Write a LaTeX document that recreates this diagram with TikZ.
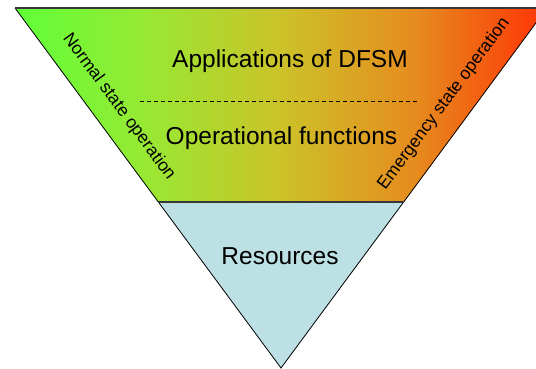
\documentclass[tikz,border=0pt]{standalone}
\usepackage{fontspec}
\setmainfont{Liberation Sans}
\definecolor{res}{RGB}{188,224,228}
\definecolor{edgec}{RGB}{55,55,55}
\pgfdeclarehorizontalshading{fsmshade}{100bp}{%
  rgb(0bp)=(0.37,1.0,0.22);
  rgb(25bp)=(0.37,1.0,0.22);
  rgb(37.5bp)=(0.60,0.91,0.20);
  rgb(50bp)=(0.80,0.76,0.16);
  rgb(62.5bp)=(0.90,0.55,0.12);
  rgb(75bp)=(1.0,0.20,0.02);
  rgb(100bp)=(1.0,0.20,0.02)}
\begin{document}
\begin{tikzpicture}[x=1pt,y=-1pt,
  mainlbl/.style={font=\fontsize{24.5}{29}\selectfont, inner sep=0pt, anchor=base},
  sidelbl/.style={font=\fontsize{17.5}{21}\selectfont, inner sep=0pt}]
\useasboundingbox (0,0) rectangle (536,368);
\clip (0,0) rectangle (536,368);
\coordinate (tl) at (15,8);
\coordinate (tr) at (547,8);
\coordinate (ml) at (158,202);
\coordinate (mr) at (404,202);
\coordinate (ap) at (281,368);
\shade[shading=fsmshade] (tl) -- (tr) -- (mr) -- (ml) -- cycle;
\fill[res] (ml) -- (mr) -- (ap) -- cycle;
\draw[line width=0.8pt] (tl) -- (ap) -- (tr);
\draw[edgec, line width=1.6pt] (tl) -- (tr);
\draw[edgec, line width=1.6pt] (ml) -- (mr);
\coordinate (dl) at (140,101);
\coordinate (dr) at (419,101);
\draw[dash pattern=on 4pt off 3pt, line width=0.7pt] (dl) -- (dr);
\node[mainlbl] (app) at (290,67) {Applications of DFSM};
\node[mainlbl] (ops) at (281.5,144.3) {Operational functions};
\node[mainlbl] (resl) at (280,264.3) {Resources};
\node[sidelbl, rotate=-53.5] (norm) at (119,107) {Normal state operation};
\node[sidelbl, rotate=53.5] (emer) at (444,104) {Emergency state operation};
\end{tikzpicture}
\end{document}
